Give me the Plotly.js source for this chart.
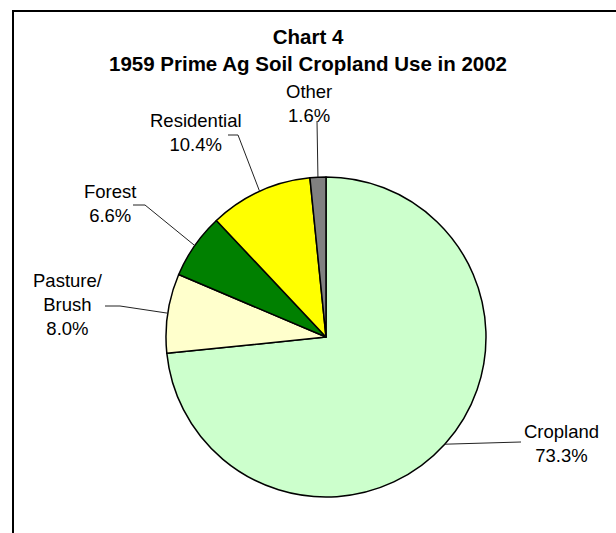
<!DOCTYPE html>
<html>
<head>
<meta charset="utf-8">
<script src="https://cdn.plot.ly/plotly-3.0.1.min.js"></script>
<style>html,body{margin:0;padding:0;background:#fff;}#chart{width:616px;height:533px;}</style>
</head>
<body>
<div id="chart"></div>
<script>
// ---- data ----
const categories = ["Cropland", "Pasture/<br>Brush", "Forest", "Residential", "Other"];
const shares = [73.3, 8.0, 6.6, 10.4, 1.6];
const colors = ["#CCFFCC", "#FFFFCC", "#008000", "#FFFF00", "#808080"];
const titleText = "Chart 4<br>1959 Prime Ag Soil Cropland Use in 2002";

// ---- layout constants (pixels) ----
const W = 616, H = 533;
const pieCx = 326, pieCy = 337, pieR = 160;
// label block centres and leader-line start/elbow points (px)
const labelPos = [
  {x: 561, y: 443, start: [521, 442], elbow: null},
  {x: 68,  y: 304, start: [105, 306], elbow: [120, 306]},
  {x: 110, y: 203, start: [133, 205], elbow: [145, 205]},
  {x: 196, y: 132, start: [228, 135], elbow: [238, 135]},
  {x: 309, y: 104, start: [317, 121], elbow: null}
];

const px = x => x / W;
const py = y => 1 - y / H;

const domain = {
  x: [px(pieCx - pieR), px(pieCx + pieR)],
  y: [py(pieCy + pieR), py(pieCy - pieR)]
};

const total = shares.reduce((a, b) => a + b, 0);
let cum = 0;
const annotations = [];
const shapes = [];
shares.forEach((v, i) => {
  const theta = 2 * Math.PI * (cum + v / 2) / total;
  cum += v;
  const ex = pieCx + pieR * Math.sin(theta);
  const ey = pieCy - pieR * Math.cos(theta);
  const L = labelPos[i];
  annotations.push({
    xref: "paper", yref: "paper", x: px(L.x), y: py(L.y),
    xanchor: "center", yanchor: "middle", showarrow: false,
    text: categories[i] + "<br>" + v.toFixed(1) + "%",
    font: {family: "Liberation Sans, Arial, sans-serif", size: 18.5, color: "#000"}
  });
  let path = "M " + px(L.start[0]) + " " + py(L.start[1]);
  if (L.elbow) path += " L " + px(L.elbow[0]) + " " + py(L.elbow[1]);
  path += " L " + px(ex) + " " + py(ey);
  shapes.push({type: "path", xref: "paper", yref: "paper", path: path,
    line: {color: "#222", width: 1}});
});

// outer frame
shapes.push({type: "rect", xref: "paper", yref: "paper",
  x0: px(13), y0: -0.1, x1: 1.1, y1: py(11),
  line: {color: "#000", width: 2}, layer: "below"});

const trace = {
  type: "pie",
  labels: categories,
  values: shares,
  sort: false,
  direction: "clockwise",
  rotation: 0,
  textinfo: "none",
  hoverinfo: "none",
  showlegend: false,
  domain: domain,
  marker: {colors: colors, line: {color: "#000", width: 1.5}}
};

const layout = {
  width: W, height: H,
  margin: {l: 0, r: 0, t: 0, b: 0},
  paper_bgcolor: "#fff",
  showlegend: false,
  title: {
    text: titleText,
    x: px(308), xanchor: "center", xref: "paper",
    y: py(44), yanchor: "top", yref: "paper",
    font: {family: "Liberation Sans, Arial, sans-serif", size: 20.5, weight: 700, color: "#000"}
  },
  annotations: annotations,
  shapes: shapes
};

Plotly.newPlot("chart", [trace], layout, {staticPlot: true});
</script>
</body>
</html>
